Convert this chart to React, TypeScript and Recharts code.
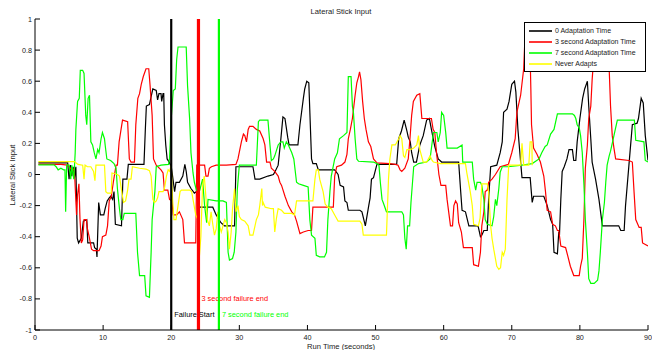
import React from 'react';
import { LineChart, Line, XAxis, YAxis, ReferenceLine, Legend } from 'recharts';

const FONT = '"Liberation Sans", Arial, Helvetica, sans-serif';

// ---- data (time in seconds, lateral stick input) ----
const xTicks = [0, 10, 20, 30, 40, 50, 60, 70, 80, 90];
const yTicks = [-1, -0.8, -0.6, -0.4, -0.2, 0, 0.2, 0.4, 0.6, 0.8, 1];

const seriesNames = ['0 Adaptation Time', '3 second Adaptation Time', '7 second Adaptation Time', 'Never Adapts'];
const seriesColors = ['#000000', '#ff0000', '#00ff00', '#ffff00'];

const failureTimes = [20, 24, 27];
const failureLabels = ['Failure Start', '3 second failure end', '7 second failure end'];
const failureColors = ['#000000', '#ff0000', '#00ff00'];

const adapt0: number[][] = [
  [0.5, 0.075], [4.8, 0.075], [5.0, -0.03], [5.2, 0.06], [5.4, -0.01], [5.6, 0.05], [5.8, -0.02], [6.0, 0.05],
  [6.2, -0.41], [6.4, -0.44], [6.8, -0.41], [7.1, -0.3], [7.6, -0.29], [7.75, -0.44], [8.6, -0.44], [8.75, -0.47],
  [9.0, -0.48], [9.1, -0.53], [9.35, -0.18], [9.6, -0.26], [10.1, -0.26], [10.3, -0.22], [10.6, -0.17], [10.9, -0.15],
  [11.1, -0.14], [11.4, -0.16], [11.6, -0.11], [11.8, -0.32], [12.7, -0.33], [12.9, -0.03], [13.5, -0.03], [13.7, 0.065],
  [16.0, 0.065], [16.2, 0.29], [16.35, 0.44], [16.8, 0.45], [17.1, 0.51], [17.3, 0.55], [17.8, 0.54], [18.0, 0.48],
  [18.2, 0.52], [18.5, 0.52], [18.6, 0.47], [18.8, 0.52], [18.9, 0.52], [19.0, 0.32], [19.2, 0.19], [19.4, 0.1],
  [19.7, 0.08], [20.0, 0.05], [20.2, -0.01], [20.5, -0.11], [20.7, -0.05], [21.2, -0.05], [21.7, -0.01], [22.0, 0.065],
  [22.2, 0.02], [22.4, -0.05], [22.9, -0.09], [23.4, -0.12], [23.7, -0.11], [24.0, -0.12], [24.1, -0.21], [26.1, -0.21],
  [26.6, -0.26], [27.3, -0.31], [27.8, -0.33], [29.3, -0.33], [29.5, 0.05], [32.0, 0.05], [32.3, -0.03], [33.0, -0.03],
  [34.2, -0.01], [35.0, 0.0], [35.2, 0.015], [35.7, 0.06], [36.1, 0.23], [36.4, 0.37], [36.7, 0.36], [37.1, 0.24],
  [37.3, 0.19], [38.6, 0.19], [38.9, 0.32], [39.4, 0.49], [39.6, 0.55], [39.9, 0.6], [40.2, 0.59], [40.6, 0.1],
  [40.8, 0.07], [41.3, 0.07], [41.6, 0.03], [44.0, 0.03], [44.5, 0.0], [44.8, -0.07], [45.3, -0.08], [45.5, -0.17],
  [45.8, -0.18], [46.0, -0.23], [47.7, -0.23], [48.0, -0.24], [48.5, -0.33], [49.0, -0.2], [49.2, -0.15], [49.4, -0.03],
  [49.7, -0.02], [50.2, 0.065], [53.1, 0.065], [53.4, 0.23], [53.8, 0.28], [54.2, 0.35], [54.6, 0.28], [54.8, 0.24],
  [55.1, 0.21], [55.3, 0.14], [55.6, 0.08], [56.0, 0.08], [56.5, 0.19], [57.0, 0.25], [57.5, 0.35], [57.9, 0.36],
  [58.2, 0.29], [58.7, 0.18], [59.2, 0.1], [59.7, 0.08], [62.2, 0.08], [62.5, -0.11], [62.7, -0.23], [63.2, -0.24],
  [63.7, -0.33], [65.05, -0.33], [65.4, -0.4], [65.6, -0.39], [65.9, -0.36], [66.4, -0.36], [66.6, -0.16], [66.9, 0.05],
  [67.8, 0.06], [68.3, 0.14], [68.6, 0.21], [68.8, 0.4], [69.3, 0.42], [69.6, 0.47], [70.0, 0.58], [70.4, 0.6],
  [70.6, 0.53], [70.9, 0.29], [71.3, 0.08], [71.5, -0.02], [72.7, -0.02], [73.0, -0.18], [73.2, -0.14], [74.7, -0.14],
  [75.2, -0.2], [75.7, -0.29], [76.0, -0.32], [76.2, -0.5], [76.7, -0.51], [76.9, -0.37], [77.0, -0.39], [77.2, -0.16],
  [77.4, 0.02], [77.7, 0.05], [78.1, 0.1], [78.4, 0.16], [78.9, 0.16], [79.1, 0.09], [79.4, 0.09], [79.6, 0.21],
  [80.0, 0.36], [80.4, 0.49], [80.7, 0.55], [81.1, 0.6], [81.3, 0.44], [81.6, 0.23], [81.8, 0.08], [82.3, -0.03],
  [82.8, -0.16], [83.3, -0.33], [85.7, -0.33], [86.0, -0.36], [86.5, -0.36], [86.7, -0.2], [87.2, 0.06], [87.7, 0.32],
  [88.4, 0.33], [88.6, 0.36], [89.0, 0.49], [89.3, 0.46], [89.6, 0.25], [90.0, 0.09],
];

const adapt3: number[][] = [
  [0.5, 0.065], [3.8, 0.065], [4.8, 0.06], [5.1, 0.045], [5.4, 0.03], [5.7, 0.035], [5.85, -0.03], [6.1, -0.26],
  [6.25, -0.13], [6.45, -0.06], [6.6, -0.28], [6.8, -0.44], [7.0, -0.42], [7.2, -0.29], [7.55, -0.29], [7.7, -0.35],
  [7.95, -0.4], [8.3, -0.48], [8.6, -0.49], [9.4, -0.49], [9.7, -0.46], [9.9, -0.4], [10.4, -0.39], [10.65, -0.33],
  [10.9, -0.17], [11.2, -0.14], [11.5, -0.05], [11.9, 0.06], [12.1, 0.06], [12.35, 0.21], [12.6, 0.28], [12.85, 0.35],
  [13.6, 0.34], [13.85, 0.1], [14.1, 0.08], [14.6, 0.08], [14.8, 0.32], [15.1, 0.49], [15.35, 0.52], [15.6, 0.58],
  [15.9, 0.63], [16.3, 0.68], [16.7, 0.68], [16.9, 0.57], [17.2, 0.38], [17.4, 0.1], [17.8, 0.06], [18.5, 0.03],
  [18.8, 0.01], [19.0, -0.1], [19.5, -0.1], [19.75, -0.16], [20.1, -0.17], [20.3, -0.26], [20.8, -0.26], [21.2, -0.24],
  [21.7, -0.29], [21.95, -0.44], [23.6, -0.44], [23.75, 0.06], [24.9, 0.06], [25.1, -0.01], [25.4, -0.01], [25.6, 0.04],
  [25.9, 0.05], [26.6, 0.06], [28.1, 0.06], [29.5, 0.065], [29.8, 0.1], [30.3, 0.21], [30.6, 0.26], [30.8, 0.25],
  [31.05, 0.21], [31.3, 0.29], [31.5, 0.31], [32.0, 0.31], [32.5, 0.29], [33.0, 0.28], [33.5, 0.23], [33.75, 0.19],
  [34.0, 0.08], [34.5, 0.08], [34.7, 0.04], [35.2, 0.02], [35.7, -0.01], [35.95, -0.05], [36.2, -0.07], [36.7, -0.14],
  [37.2, -0.2], [37.7, -0.24], [38.1, -0.26], [38.4, -0.3], [38.9, -0.38], [39.4, -0.37], [40.1, -0.36], [40.6, -0.36],
  [40.8, -0.21], [43.8, -0.21], [44.0, -0.01], [44.3, 0.05], [45.0, 0.06], [45.5, 0.08], [45.8, 0.13], [46.0, 0.23],
  [46.3, 0.29], [46.6, 0.36], [47.0, 0.51], [47.25, 0.59], [47.5, 0.63], [47.65, 0.66], [47.85, 0.61], [48.1, 0.47],
  [48.35, 0.36], [48.6, 0.29], [48.95, 0.21], [49.3, 0.18], [49.7, 0.1], [50.2, 0.075], [52.1, 0.07], [52.9, 0.065],
  [53.3, 0.06], [53.6, 0.03], [53.85, 0.02], [54.3, 0.04], [54.8, 0.1], [55.05, 0.23], [55.3, 0.38], [55.55, 0.47],
  [56.05, 0.51], [56.5, 0.52], [56.8, 0.36], [58.2, 0.36], [58.45, 0.29], [58.7, 0.27], [58.95, 0.14], [59.3, 0.0],
  [59.6, -0.07], [60.3, -0.07], [60.5, -0.16], [61.0, -0.33], [61.3, -0.33], [61.5, -0.2], [61.75, -0.17], [62.0, -0.19],
  [62.2, -0.31], [62.6, -0.37], [62.9, -0.47], [64.2, -0.47], [64.4, -0.58], [65.1, -0.59], [65.4, -0.5], [65.6, -0.33],
  [65.9, -0.24], [66.1, -0.11], [66.4, -0.1], [66.6, -0.05], [67.1, -0.03], [67.6, 0.0], [68.3, 0.05], [69.5, 0.065],
  [70.0, 0.14], [70.5, 0.23], [70.75, 0.4], [71.3, 0.51], [71.75, 0.68], [72.0, 0.95], [72.6, 0.95], [72.8, 0.55],
  [72.9, 0.32], [73.2, 0.17], [73.7, 0.13], [74.2, 0.08], [74.7, -0.01], [74.95, -0.11], [75.2, -0.23], [75.7, -0.24],
  [76.0, -0.32], [76.4, -0.33], [76.7, -0.36], [76.9, -0.36], [77.2, -0.46], [77.9, -0.47], [78.2, -0.52], [78.6, -0.59],
  [79.1, -0.65], [79.9, -0.65], [80.1, -0.59], [80.35, -0.54], [80.6, -0.28], [80.8, 0.04], [81.1, 0.19], [81.3, 0.36],
  [81.6, 0.44], [81.8, 0.61], [82.1, 0.79], [82.4, 0.95], [84.1, 0.95], [84.3, 0.68], [84.5, 0.44], [84.75, 0.25],
  [85.0, 0.17], [85.25, 0.1], [87.2, 0.09], [87.7, 0.08], [87.95, -0.11], [88.2, -0.29], [88.7, -0.34], [89.0, -0.34],
  [89.2, -0.44], [90.0, -0.46],
];

const adapt7: number[][] = [
  [0.5, 0.062], [2.8, 0.062], [3.1, 0.05], [3.4, 0.03], [3.8, 0.04], [4.2, 0.03], [4.4, 0.03], [4.5, -0.24],
  [4.65, 0.06], [5.0, 0.06], [5.25, -0.03], [5.4, 0.06], [5.7, -0.03], [5.9, 0.14], [6.0, 0.29], [6.25, 0.47],
  [6.5, 0.49], [6.65, 0.67], [7.0, 0.67], [7.2, 0.65], [7.45, 0.38], [7.6, 0.32], [7.8, 0.49], [8.0, 0.51],
  [8.2, 0.21], [8.45, 0.19], [8.7, 0.14], [8.95, 0.1], [9.2, 0.16], [9.4, 0.14], [9.7, 0.23], [9.9, 0.27],
  [10.2, 0.23], [10.3, 0.19], [10.55, 0.1], [11.1, 0.09], [11.6, 0.07], [11.9, 0.04], [12.1, -0.09], [12.4, -0.22],
  [12.6, -0.29], [12.9, -0.29], [13.1, -0.25], [14.8, -0.25], [15.05, -0.5], [15.35, -0.65], [16.1, -0.65], [16.3, -0.78],
  [16.8, -0.79], [17.05, -0.5], [17.2, -0.29], [17.4, -0.2], [17.6, -0.11], [17.8, 0.05], [18.5, 0.06], [19.6, 0.065],
  [19.75, 0.1], [20.0, 0.36], [20.3, 0.54], [20.6, 0.55], [20.8, 0.74], [21.0, 0.82], [22.2, 0.82], [22.4, 0.57],
  [22.7, 0.36], [22.9, 0.14], [23.2, 0.01], [23.4, -0.05], [23.7, -0.1], [24.2, -0.1], [24.6, -0.03], [24.9, -0.2],
  [25.2, -0.31], [25.4, -0.16], [26.6, -0.17], [27.6, -0.17], [28.1, -0.18], [28.35, -0.5], [28.55, -0.55], [29.0, -0.54],
  [29.25, -0.5], [29.5, -0.37], [29.7, -0.1], [30.0, 0.06], [32.5, 0.06], [32.8, 0.34], [33.0, 0.35], [34.2, 0.35],
  [34.5, 0.19], [34.7, 0.09], [35.0, 0.1], [35.2, 0.12], [35.7, 0.19], [36.1, 0.21], [36.4, 0.21], [36.6, 0.17],
  [36.9, 0.21], [37.2, 0.19], [37.7, 0.14], [38.0, 0.1], [38.4, -0.05], [38.7, -0.06], [39.4, -0.07], [40.1, -0.08],
  [40.35, -0.29], [40.6, -0.39], [41.1, -0.41], [41.3, -0.52], [41.8, -0.53], [42.5, -0.53], [42.8, -0.5], [43.0, -0.29],
  [43.3, -0.11], [43.5, -0.01], [44.0, 0.1], [44.4, 0.14], [44.7, 0.23], [45.3, 0.25], [45.8, 0.27], [46.0, 0.63],
  [46.4, 0.63], [46.6, 0.44], [46.75, 0.4], [47.0, 0.23], [47.25, 0.1], [47.5, 0.085], [49.7, 0.08], [50.2, 0.07],
  [50.5, 0.06], [50.7, -0.05], [50.95, -0.16], [51.2, -0.19], [51.6, -0.24], [53.85, -0.24], [54.1, -0.26], [54.3, -0.41],
  [54.5, -0.48], [54.7, -0.33], [55.0, -0.33], [55.2, -0.18], [55.6, 0.05], [56.3, 0.07], [57.5, 0.08], [58.0, 0.1],
  [58.5, 0.27], [59.0, 0.27], [59.2, 0.21], [59.5, 0.27], [59.7, 0.4], [60.0, 0.38], [60.3, 0.27], [60.5, 0.17],
  [62.0, 0.17], [62.7, 0.19], [62.8, 0.08], [64.2, 0.08], [64.4, -0.03], [64.7, -0.1], [64.9, -0.05], [65.4, -0.05],
  [65.6, -0.07], [65.9, -0.16], [66.1, -0.29], [66.4, -0.32], [67.1, -0.33], [67.35, -0.27], [67.6, -0.16], [67.8, -0.2],
  [68.1, -0.09], [68.3, 0.015], [68.6, 0.05], [69.5, 0.05], [71.5, 0.06], [73.0, 0.07], [74.0, 0.1], [74.4, 0.14],
  [74.9, 0.18], [75.2, 0.19], [75.7, 0.26], [76.2, 0.29], [76.7, 0.39], [78.9, 0.39], [79.2, 0.38], [79.4, 0.36],
  [79.6, 0.32], [79.9, 0.3], [80.1, 0.25], [80.35, 0.14], [80.6, -0.07], [80.8, -0.29], [81.1, -0.5], [81.3, -0.67],
  [81.6, -0.7], [82.1, -0.7], [82.6, -0.68], [82.8, -0.62], [83.0, -0.5], [83.3, -0.29], [83.6, -0.18], [83.8, -0.05],
  [84.0, 0.06], [84.3, 0.12], [84.5, 0.15], [85.0, 0.25], [85.2, 0.29], [85.5, 0.35], [88.0, 0.35], [88.2, 0.22],
  [89.4, 0.21], [89.6, 0.09], [90.0, 0.08],
];

const neverAdapts: number[][] = [
  [0.5, 0.083], [5.8, 0.083], [6.0, 0.075], [6.3, 0.065], [7.0, 0.06], [7.2, -0.03], [7.35, 0.06], [7.7, 0.05],
  [8.2, 0.05], [8.6, 0.02], [8.8, -0.04], [8.95, 0.06], [10.2, 0.06], [10.4, -0.11], [10.65, -0.12], [11.2, -0.12],
  [11.3, 0.01], [12.1, 0.0], [12.4, -0.01], [12.7, -0.1], [13.0, -0.18], [13.3, -0.17], [13.6, -0.1], [13.8, -0.03],
  [14.1, -0.03], [14.3, 0.05], [15.35, 0.04], [16.3, 0.035], [16.8, 0.025], [17.05, -0.01], [17.3, -0.16], [17.55, -0.18],
  [17.8, -0.17], [18.0, -0.15], [18.2, -0.11], [18.8, -0.11], [19.0, -0.09], [19.3, -0.01], [19.55, 0.03], [19.75, 0.02],
  [20.0, 0.06], [20.2, -0.16], [20.4, -0.29], [20.7, -0.29], [21.0, -0.2], [21.3, -0.11], [21.5, -0.1], [22.7, -0.1],
  [23.0, -0.11], [23.2, -0.16], [23.6, -0.26], [23.9, -0.29], [24.15, -0.52], [24.35, -0.4], [24.6, -0.07], [24.85, -0.01],
  [25.05, -0.12], [25.3, -0.29], [25.6, -0.33], [25.85, -0.24], [26.1, -0.32], [26.35, -0.39], [26.6, -0.35], [26.85, -0.24],
  [27.1, -0.33], [27.35, -0.37], [27.6, -0.33], [27.85, -0.29], [28.1, -0.31], [28.35, -0.37], [28.55, -0.48], [28.8, -0.37],
  [29.0, -0.22], [29.3, -0.09], [29.5, -0.24], [29.8, -0.2], [30.0, -0.27], [30.3, -0.29], [30.8, -0.3], [31.3, -0.33],
  [31.55, -0.39], [32.0, -0.39], [32.3, -0.33], [32.5, -0.29], [32.8, -0.26], [33.0, -0.2], [33.3, -0.09], [33.4, -0.2],
  [33.5, -0.18], [33.8, -0.21], [34.7, -0.22], [35.0, -0.22], [35.2, -0.37], [35.45, -0.28], [35.7, -0.22], [36.2, -0.23],
  [36.6, -0.25], [37.7, -0.25], [38.1, -0.26], [38.4, -0.17], [40.8, -0.17], [41.1, -0.03], [41.3, 0.03], [41.6, 0.03],
  [41.8, -0.03], [42.3, -0.11], [42.6, -0.19], [43.0, -0.21], [43.5, -0.22], [44.0, -0.26], [44.5, -0.3], [47.7, -0.3],
  [48.0, -0.32], [48.2, -0.39], [51.6, -0.39], [51.9, -0.03], [52.1, 0.1], [52.4, 0.19], [52.9, 0.19], [53.4, 0.23],
  [53.6, 0.25], [53.85, 0.23], [54.1, 0.12], [54.3, 0.11], [54.6, 0.16], [55.1, 0.16], [55.6, 0.17], [56.05, 0.19],
  [56.3, 0.25], [56.5, 0.16], [57.0, 0.08], [57.5, 0.08], [58.0, 0.12], [58.3, 0.09], [58.5, 0.08], [59.5, 0.07],
  [63.2, 0.07], [63.4, 0.01], [63.9, -0.11], [64.2, -0.2], [64.4, -0.32], [65.1, -0.33], [65.35, -0.28], [65.6, -0.06],
  [66.4, -0.06], [66.6, -0.11], [66.9, -0.33], [67.1, -0.41], [67.35, -0.48], [67.8, -0.59], [68.1, -0.61], [68.35, -0.6],
  [68.6, -0.5], [68.8, -0.52], [69.05, -0.48], [69.3, -0.16], [69.55, 0.06], [71.3, 0.06], [71.5, 0.2], [71.75, 0.06],
  [72.5, 0.06], [72.7, 0.21], [72.95, 0.21], [73.0, 0.06],
];

const seriesData = [adapt0, adapt3, adapt7, neverAdapts].map((s) => s.map(([t, v]) => ({ t, v })));

// ---- layout ----
const W = 652;
const H = 350;
const TICK_FONT = 7.2;
const TEXT_COLOR = '#1a1a1a';

const BottomTick = (p: any) => (
  <g>
    <line x1={p.x} y1={p.y} x2={p.x} y2={p.y - 5} stroke="#000" strokeWidth={1} />
    <text x={p.x} y={p.y + 9.5} textAnchor="middle" fontSize={TICK_FONT} fontFamily={FONT} fill={TEXT_COLOR}>
      {p.payload.value}
    </text>
  </g>
);
const TopTick = (p: any) => <line x1={p.x} y1={p.y} x2={p.x} y2={p.y + 5} stroke="#000" strokeWidth={1} />;
const LeftTick = (p: any) => (
  <g>
    <line x1={p.x} y1={p.y} x2={p.x + 5} y2={p.y} stroke="#000" strokeWidth={1} />
    <text x={p.x - 3} y={p.y + 2.5} textAnchor="end" fontSize={TICK_FONT} fontFamily={FONT} fill={TEXT_COLOR}>
      {String(p.payload.value)}
    </text>
  </g>
);
const RightTick = (p: any) => <line x1={p.x} y1={p.y} x2={p.x - 5} y2={p.y} stroke="#000" strokeWidth={1} />;

const FailLabel = (p: any) => {
  const vb = p.viewBox || {};
  return (
    <text
      x={(vb.x || 0) + 3}
      y={(vb.y || 0) + (vb.height || 0) - p.up}
      fontSize={7.4}
      fontFamily={FONT}
      fill={p.color}
    >
      {p.text}
    </text>
  );
};
const labelUp = [13, 29, 13];

const LegendBox = (props: any) => {
  const payload = props.payload || [];
  return (
    <div
      style={{
        width: 122,
        background: '#fff',
        border: '1.5px solid #000',
        padding: '2px 0',
        fontFamily: FONT,
        fontSize: 7,
        color: TEXT_COLOR,
        boxSizing: 'border-box',
      }}
    >
      {payload.map((e: any) => (
        <div key={e.value} style={{ display: 'flex', alignItems: 'center', height: 11 }}>
          <svg width={23} height={4} style={{ marginLeft: 4, marginRight: 3, display: 'block' }}>
            <line x1={0} y1={2} x2={23} y2={2} stroke={e.color} strokeWidth={1.6} />
          </svg>
          <span style={{ whiteSpace: 'nowrap' }}>{e.value}</span>
        </div>
      ))}
    </div>
  );
};

export default function App() {
  return (
    <div style={{ position: 'absolute', left: 0, top: 0, width: W, height: H, background: '#fff', fontFamily: FONT }}>
      <LineChart width={W} height={H} margin={{ top: 19, right: 4, bottom: 0, left: 0 }}>
        <XAxis
          xAxisId={0}
          type="number"
          dataKey="t"
          domain={[0, 90]}
          ticks={xTicks}
          interval={0}
          allowDataOverflow
          height={20}
          tickSize={0}
          tickMargin={0}
          tickLine={false}
          tick={BottomTick}
          axisLine={{ stroke: '#000', strokeWidth: 1 }}
        />
        <XAxis
          xAxisId={1}
          orientation="top"
          type="number"
          dataKey="t"
          domain={[0, 90]}
          ticks={xTicks}
          interval={0}
          allowDataOverflow
          height={0}
          tickSize={0}
          tickMargin={0}
          tickLine={false}
          tick={TopTick}
          axisLine={{ stroke: '#000', strokeWidth: 1 }}
        />
        <YAxis
          yAxisId={0}
          type="number"
          domain={[-1, 1]}
          ticks={yTicks}
          interval={0}
          allowDataOverflow
          width={35}
          tickSize={0}
          tickMargin={0}
          tickLine={false}
          tick={LeftTick}
          axisLine={{ stroke: '#000', strokeWidth: 1 }}
        />
        <YAxis
          yAxisId={1}
          orientation="right"
          type="number"
          domain={[-1, 1]}
          ticks={yTicks}
          interval={0}
          allowDataOverflow
          width={0}
          tickSize={0}
          tickMargin={0}
          tickLine={false}
          tick={RightTick}
          axisLine={{ stroke: '#000', strokeWidth: 1 }}
        />
        {seriesData.map((d, i) => (
          <Line
            key={seriesNames[i]}
            data={d}
            xAxisId={0}
            yAxisId={0}
            dataKey="v"
            name={seriesNames[i]}
            type="linear"
            stroke={seriesColors[i]}
            strokeWidth={1.2}
            dot={false}
            activeDot={false}
            isAnimationActive={false}
          />
        ))}
        {failureTimes.map((t, i) => (
          <ReferenceLine
            key={failureLabels[i]}
            x={t}
            xAxisId={0}
            yAxisId={0}
            stroke={failureColors[i]}
            strokeWidth={i === 1 ? 3.2 : 2.2}
            label={<FailLabel text={failureLabels[i]} color={failureColors[i]} up={labelUp[i]} />}
          />
        ))}
        <Legend
          layout="vertical"
          align="center"
          verticalAlign="middle"
          content={<LegendBox />}
          wrapperStyle={{ position: 'absolute', left: 524, top: 22, width: 122, margin: 0 }}
        />
      </LineChart>
      <div
        style={{
          position: 'absolute',
          left: 341,
          top: 11,
          transform: 'translate(-50%, -50%)',
          fontSize: 7.6,
          whiteSpace: 'nowrap',
          color: TEXT_COLOR,
          lineHeight: '9px',
        }}
      >
        Lateral Stick Input
      </div>
      <div
        style={{
          position: 'absolute',
          left: 341,
          top: 346,
          transform: 'translate(-50%, -50%)',
          fontSize: 7.6,
          whiteSpace: 'nowrap',
          color: TEXT_COLOR,
          lineHeight: '9px',
        }}
      >
        Run Time (seconds)
      </div>
      <div
        style={{
          position: 'absolute',
          left: 12,
          top: 175,
          transform: 'translate(-50%, -50%) rotate(-90deg)',
          fontSize: 7.6,
          whiteSpace: 'nowrap',
          color: TEXT_COLOR,
          lineHeight: '9px',
        }}
      >
        Lateral Stick Input
      </div>
    </div>
  );
}
